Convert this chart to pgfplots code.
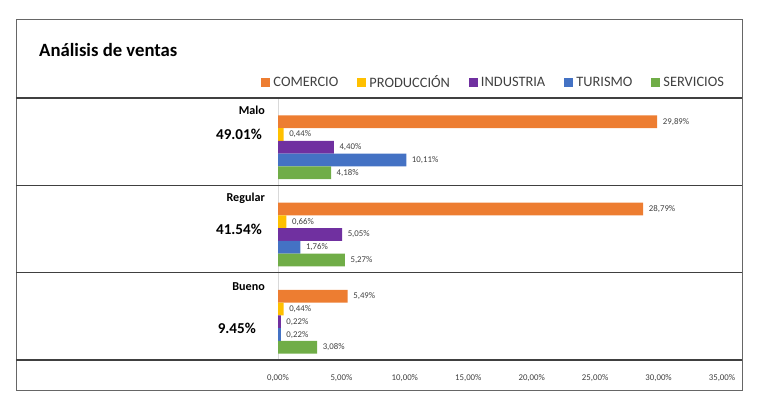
\documentclass[border=0pt]{standalone}
\usepackage{pgfplots}
\pgfplotsset{compat=1.18}
\usepackage{fontspec}
\setmainfont{Carlito}
\definecolor{cCom}{HTML}{ED7D31}
\definecolor{cPro}{HTML}{FFC000}
\definecolor{cInd}{HTML}{7030A0}
\definecolor{cTur}{HTML}{4472C4}
\definecolor{cSer}{HTML}{70AD47}
\definecolor{txt}{HTML}{404040}
\begin{document}
\begin{tikzpicture}[x=1pt,y=1pt]
\path (0,0) rectangle (768,407);
\draw[color=black!60, line width=1pt] (16,17) rectangle (742,387);
\node[anchor=base west, inner sep=0pt, font=\fontsize{18.7}{22}\selectfont\bfseries, text=black] at (39,350.3) {Análisis de ventas};
\begin{axis}[
  at={(16pt,47pt)}, anchor=south west,
  scale only axis, width=726pt, height=262pt,
  xmin=-20.653, xmax=36.576, ymin=-0.5, ymax=2.5, y dir=reverse,
  axis line style={draw=none},
  xbar, bar width=12.75pt, bar shift=0pt,
  point meta=x,
  xtick={0,5,...,35},
  xticklabels={{0,00\%},{5,00\%},{10,00\%},{15,00\%},{20,00\%},{25,00\%},{30,00\%},{35,00\%}},
  ytick=\empty,
  major tick length=0pt,
  xticklabel style={font=\fontsize{8.8}{10}\selectfont, text=txt, anchor=center, yshift=-18pt},
  extra y ticks={-0.5,0.5,1.5,2.5}, extra y tick labels={},
  extra y tick style={grid=major, major grid style={draw=black!75, line width=1.6pt}},
  extra x ticks={0}, extra x tick labels={},
  extra x tick style={grid=major, major grid style={draw=black!15, line width=0.8pt}},
  nodes near coords={\pgfmathprintnumber[fixed,fixed zerofill,precision=2,use comma,assume math mode=true]{\pgfplotspointmeta}\%},
  nodes near coords style={anchor=west, font=\fontsize{8.8}{10}\selectfont, text=txt, inner sep=0pt, xshift=5.5pt},
  legend image code/.code={\fill[#1,draw=none] (0pt,-4.5pt) rectangle (9pt,4.5pt);},
  legend columns=-1,
  legend style={draw=none, fill=none, inner sep=0pt, outer sep=0pt,
    at={(0.9752,1.06)}, anchor=east,
    font=\fontsize{14.4}{16}\selectfont, text=txt,
    nodes={inner sep=0pt},
    /tikz/every odd column/.append style={column sep=3pt},
    /tikz/every even column/.append style={column sep=19pt}},
]
\addplot[fill=cCom, draw=none] coordinates {(29.89,-0.229) (28.79,0.771) (5.49,1.771)};
\addplot[fill=cPro, draw=none] coordinates {(0.44,-0.083) (0.66,0.917) (0.44,1.917)};
\addplot[fill=cInd, draw=none] coordinates {(4.40,0.063) (5.05,1.063) (0.22,2.063)};
\addplot[fill=cTur, draw=none] coordinates {(10.11,0.209) (1.76,1.209) (0.22,2.209)};
\addplot[fill=cSer, draw=none] coordinates {(4.18,0.355) (5.27,1.355) (3.08,2.355)};
\legend{COMERCIO,PRODUCCIÓN,INDUSTRIA,TURISMO,SERVICIOS}
\end{axis}
\begin{scope}[every node/.style={inner sep=0pt, text=black}]
\node[anchor=base east, font=\fontsize{12.1}{14}\selectfont\bfseries] at (265,292) {Malo};
\node[anchor=base east, font=\fontsize{12.1}{14}\selectfont\bfseries] at (265,205) {Regular};
\node[anchor=base east, font=\fontsize{12.1}{14}\selectfont\bfseries] at (265,116.3) {Bueno};
\node[anchor=base east, font=\fontsize{15.1}{17}\selectfont\bfseries] at (262,267) {49.01\%};
\node[anchor=base east, font=\fontsize{15.1}{17}\selectfont\bfseries] at (262,172) {41.54\%};
\node[anchor=base east, font=\fontsize{15.1}{17}\selectfont\bfseries] at (256,73.7) {9.45\%};
\end{scope}
\end{tikzpicture}
\end{document}
